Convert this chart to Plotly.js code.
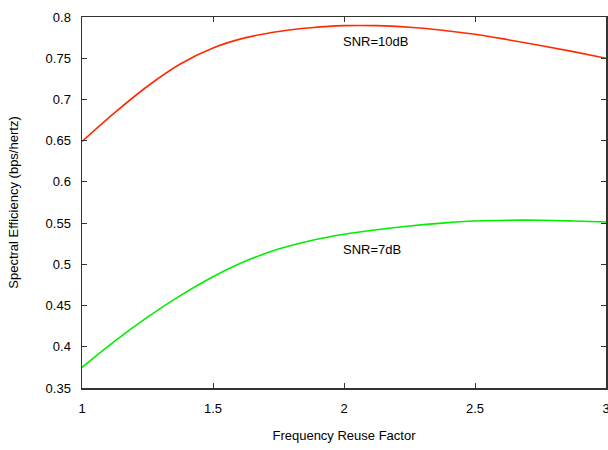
<!DOCTYPE html>
<html>
<head>
<meta charset="utf-8">
<script src="https://cdn.plot.ly/plotly-3.0.1.min.js"></script>
<style>html,body{margin:0;padding:0;background:#fff;}#chart{width:608px;height:450px;}</style>
</head>
<body>
<div id="chart"></div>
<script>
var reuseFactor = [1, 1.125, 1.25, 1.375, 1.5, 1.625, 1.75, 1.875, 2, 2.125, 2.25, 2.375, 2.5, 2.625, 2.75, 2.875, 3];
var snr10 = [0.649, 0.684, 0.716, 0.743, 0.7625, 0.775, 0.7825, 0.787, 0.7895, 0.7895, 0.7875, 0.784, 0.779, 0.7725, 0.7655, 0.758, 0.750];
var snr7 = [0.375, 0.407, 0.436, 0.462, 0.485, 0.504, 0.5185, 0.529, 0.5365, 0.542, 0.5465, 0.550, 0.5525, 0.5535, 0.5535, 0.5526, 0.5513];
var labelText = ["SNR=10dB", "SNR=7dB"];
var labelX = [2.0, 2.0];
var labelY = [0.77, 0.518];
var yTicks = [0.35, 0.4, 0.45, 0.5, 0.55, 0.6, 0.65, 0.7, 0.75, 0.8];
var yTickText = ["0.35", "0.4", "0.45", "0.5", "0.55", "0.6", "0.65", "0.7", "0.75", "0.8"];
var xTicks = [1, 1.5, 2, 2.5, 3];
var xTickText = ["1", "1.5", "2", "2.5", "3"];

var font = {family: "Liberation Sans, Arial, sans-serif", size: 13, color: "#000"};

var traces = [
  {x: reuseFactor, y: snr10, mode: "lines", line: {color: "#ff2a00", width: 1.6, shape: "spline", smoothing: 1}, hoverinfo: "none", showlegend: false},
  {x: reuseFactor, y: snr7, mode: "lines", line: {color: "#00ee00", width: 1.6, shape: "spline", smoothing: 1}, hoverinfo: "none", showlegend: false}
];

var annotations = labelText.map(function (t, i) {
  return {x: labelX[i], y: labelY[i], xref: "x", yref: "y", text: t, showarrow: false, xanchor: "left", yanchor: "middle", xshift: -3, font: font};
});

var layout = {
  width: 608, height: 450,
  margin: {l: 82, r: 2, t: 17, b: 62},
  paper_bgcolor: "#fff", plot_bgcolor: "#fff",
  font: font,
  showlegend: false,
  annotations: annotations,
  xaxis: {
    range: [1, 3], tickvals: xTicks, ticktext: xTickText,
    ticks: "inside", ticklen: 5, tickcolor: "#333", tickwidth: 1,
    showline: true, linecolor: "#333", linewidth: 1.5, mirror: "ticks",
    showgrid: false, zeroline: false,
    tickfont: font,
    ticklabelstandoff: 8,
    ticklabeloverflow: "allow",
    title: {text: "Frequency Reuse Factor", font: font, standoff: 16}
  },
  yaxis: {
    range: [0.35, 0.8], tickvals: yTicks, ticktext: yTickText,
    ticks: "inside", ticklen: 5, tickcolor: "#333", tickwidth: 1,
    showline: true, linecolor: "#333", linewidth: 1.5, mirror: "ticks",
    showgrid: false, zeroline: false,
    tickfont: font,
    ticklabelstandoff: 7,
    title: {text: "Spectral Efficiency (bps/hertz)", font: font, standoff: 24}
  }
};

Plotly.newPlot("chart", traces, layout, {staticPlot: true, displayModeBar: false});
</script>
</body>
</html>
